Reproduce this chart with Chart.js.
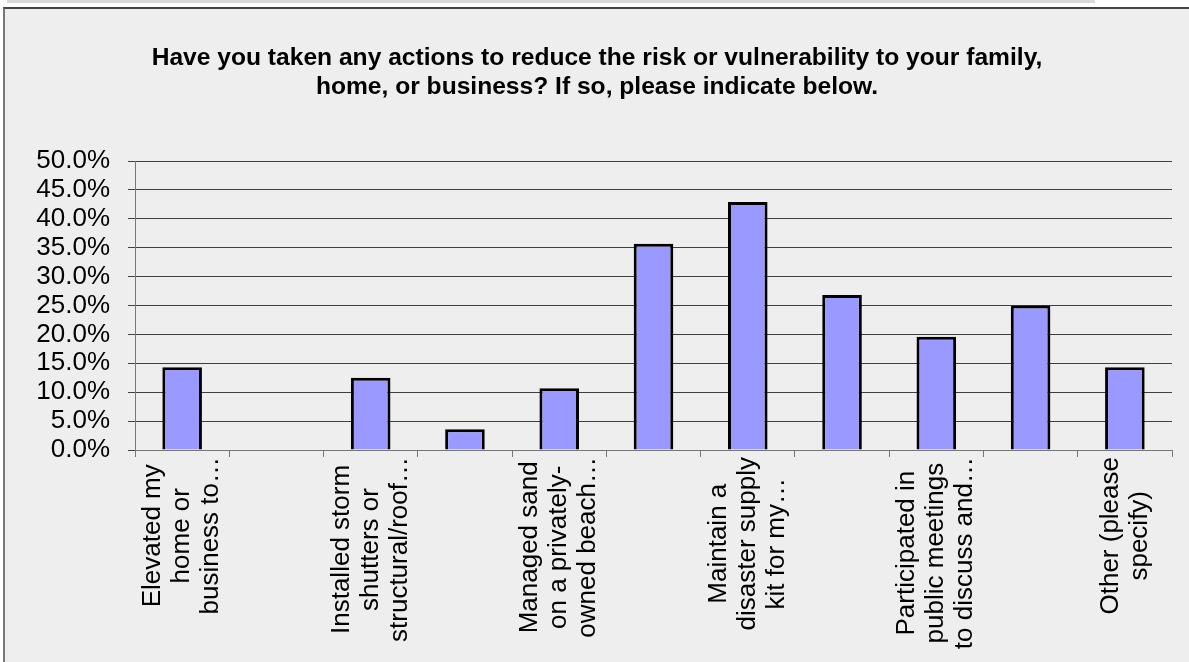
<!DOCTYPE html>
<html>
<head>
<meta charset="utf-8">
<script src="https://cdn.jsdelivr.net/npm/chart.js@4.4.1/dist/chart.umd.min.js"></script>
<style>
  html, body { margin: 0; background: #fff; overflow: hidden; font-family: "Liberation Sans", Arial, sans-serif; }
  #strip { position: absolute; left: 7px; top: 0; width: 1088px; height: 3px; background: #d9d9d9; }
  #frame {
    position: absolute; left: 3px; top: 7px; width: 1184px; height: 653px;
    border-top: 2px solid #444; border-left: 2px solid #777; background: #eeeeee;
  }
  #wrap { position: relative; width: 1184px; height: 653px; }
</style>
</head>
<body>
<div id="strip"></div>
<div id="frame">
  <div id="wrap"><canvas id="chart"></canvas></div>
</div>
<script>
const titleLines = [
  "Have you taken any actions to reduce the risk or vulnerability to your family,",
  "home, or business? If so, please indicate below."
];

// only every other category label is shown in the original
const categories = [
  ["Elevated my", "home or", "business to…"],
  "",
  ["Installed storm", "shutters or", "structural/roof…"],
  "",
  ["Managed sand", "on a privately-", "owned beach…"],
  "",
  ["Maintain a", "disaster supply", "kit for my…"],
  "",
  ["Participated in", "public meetings", "to discuss and…"],
  "",
  ["Other (please", "specify)"]
];

const percents = [14.3, 0, 12.5, 3.6, 10.7, 35.7, 42.9, 26.8, 19.6, 25.0, 14.3];

const yMax = 50;
const yStep = 5;

const labelFont = '26px "Liberation Sans", Arial, sans-serif';

// draws the rotated, centred, multi-line category labels under the axis
const xLabels = {
  id: "xLabels",
  afterDraw(chart) {
    const ctx = chart.ctx;
    const xs = chart.scales.x;
    const lineH = 29;
    ctx.save();
    ctx.font = labelFont;
    ctx.fillStyle = "#000";
    ctx.textAlign = "center";
    ctx.textBaseline = "middle";
    categories.forEach((lines, i) => {
      if (!Array.isArray(lines)) return;
      const x = xs.getPixelForValue(i);
      const maxW = Math.max(...lines.map(l => ctx.measureText(l).width));
      const y0 = chart.chartArea.bottom + 7;
      ctx.save();
      ctx.translate(x, y0 + maxW / 2);
      ctx.rotate(-Math.PI / 2);
      lines.forEach((l, j) => {
        ctx.fillText(l, 0, (j - (lines.length - 1) / 2) * lineH);
      });
      ctx.restore();
    });
    ctx.restore();
  }
};

new Chart(document.getElementById("chart"), {
  type: "bar",
  data: {
    labels: categories,
    datasets: [{
      data: percents,
      backgroundColor: "#9999ff",
      borderColor: "#000",
      borderWidth: 3,
      barPercentage: 0.42,
      categoryPercentage: 1
    }]
  },
  options: {
    responsive: true,
    maintainAspectRatio: false,
    animation: false,
    layout: { padding: { left: 17, right: 17, top: 0, bottom: 205 } },
    plugins: {
      legend: { display: false },
      tooltip: { enabled: false },
      title: {
        display: true,
        text: titleLines,
        color: "#000",
        font: { family: '"Liberation Sans", Arial, sans-serif', size: 24.6, weight: "bold", lineHeight: 1.2 },
        padding: { top: 34, bottom: 59 }
      }
    },
    scales: {
      x: {
        grid: {
          offset: true,
          drawOnChartArea: false,
          drawTicks: true,
          tickLength: 7,
          color: "#777"
        },
        border: { color: "#777", width: 1 },
        ticks: { display: false }
      },
      y: {
        min: 0,
        max: yMax,
        afterFit(scale) { scale.width = 113; },
        grid: { color: "#3f3f3f", lineWidth: 1, tickLength: 7 },
        border: { color: "#777", width: 1 },
        ticks: {
          stepSize: yStep,
          autoSkip: false,
          padding: 18,
          color: "#000",
          font: { family: '"Liberation Sans", Arial, sans-serif', size: 26 },
          callback: v => v.toFixed(1) + "%"
        }
      }
    }
  },
  plugins: [xLabels]
});
</script>
</body>
</html>
